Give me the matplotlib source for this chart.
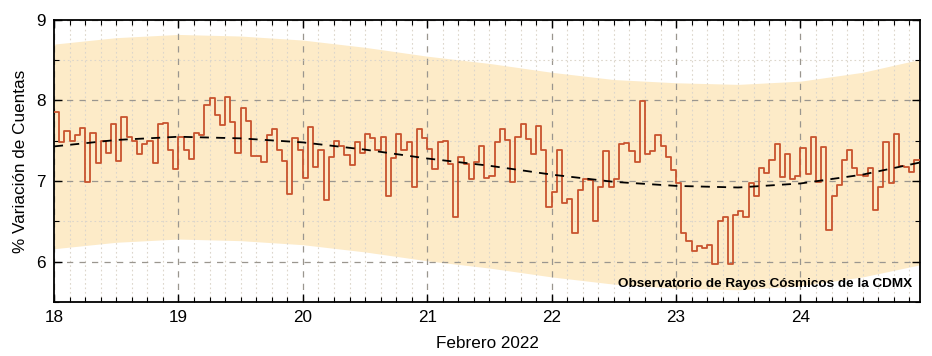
import numpy as np
import matplotlib
matplotlib.use("Agg")
import matplotlib.pyplot as plt
from matplotlib.ticker import MultipleLocator

LINE = "#C8532E"; BAND = "#FDEBC8"; GRID = "#9A968F"; MINOR = "#DCD6CB"
plt.rcParams.update({"font.family": ["Liberation Sans", "DejaVu Sans"], "font.size": 12})

# hourly % count variation, 18-24 Feb 2022 (24 values per day)
d18 = [7.86, 7.48, 7.62, 7.50, 7.57, 7.66, 6.99, 7.60, 7.22, 7.50, 7.35, 7.71,
       7.25, 7.79, 7.55, 7.50, 7.33, 7.46, 7.50, 7.22, 7.71, 7.72, 7.39, 7.15]
d19 = [7.55, 7.38, 7.27, 7.60, 7.57, 7.95, 8.03, 7.82, 7.69, 8.04, 7.73, 7.35,
       7.91, 7.75, 7.31, 7.31, 7.24, 7.57, 7.64, 7.39, 7.25, 6.84, 7.54, 7.38]
d20 = [7.04, 7.67, 7.17, 7.39, 6.76, 7.30, 7.50, 7.43, 7.32, 7.20, 7.48, 7.35,
       7.59, 7.54, 7.38, 7.55, 6.82, 7.29, 7.59, 7.38, 7.49, 6.93, 7.65, 7.54]
d21 = [7.40, 7.15, 7.49, 7.50, 7.21, 6.55, 7.30, 7.21, 7.02, 7.24, 7.43, 7.04,
       7.06, 7.49, 7.64, 7.51, 6.99, 7.55, 7.71, 7.52, 7.33, 7.68, 7.38, 6.68]
d22 = [6.87, 7.39, 6.73, 6.78, 6.35, 6.89, 7.03, 7.01, 6.51, 6.93, 7.37, 6.93,
       7.02, 7.46, 7.47, 7.37, 7.24, 7.99, 7.33, 7.37, 7.57, 7.43, 7.30, 7.14]
d23 = [6.97, 6.35, 6.26, 6.13, 6.19, 6.17, 6.20, 5.97, 6.50, 6.55, 5.97, 6.58,
       6.63, 6.55, 6.97, 6.81, 7.16, 7.10, 7.26, 7.46, 7.05, 7.33, 7.03, 7.06]
d24 = [7.41, 7.09, 7.55, 6.99, 7.42, 6.39, 6.81, 6.95, 7.26, 7.39, 7.16, 7.08,
       7.06, 7.16, 6.64, 6.93, 7.48, 6.97, 7.58, 7.19, 7.18, 7.11, 7.26, 7.26]
counts = d18 + d19 + d20 + d21 + d22 + d23 + d24

# smooth trend and its band, read every half day
trend_x = [18.0, 18.5, 19.0, 19.5, 20.0, 20.5, 21.0, 21.5, 22.0, 22.5, 23.0, 23.5, 24.0, 24.5, 24.96]
trend = [7.43, 7.51, 7.55, 7.53, 7.48, 7.39, 7.28, 7.19, 7.08, 6.99, 6.94, 6.92, 6.97, 7.08, 7.23]
band_hi = [8.70, 8.78, 8.82, 8.80, 8.75, 8.66, 8.55, 8.46, 8.35, 8.26, 8.22, 8.20, 8.24, 8.35, 8.51]
band_lo = [6.16, 6.24, 6.28, 6.26, 6.21, 6.12, 6.01, 5.92, 5.81, 5.72, 5.67, 5.65, 5.70, 5.81, 5.96]

t = 18 + np.arange(len(counts)) / 24.0

fig = plt.figure(figsize=(9.32, 3.56), dpi=100)
ax = fig.add_axes([0.058, 0.152, 0.929, 0.792])

ax.fill_between(trend_x, band_lo, band_hi, color=BAND, lw=0, zorder=1)
ax.plot(t, counts, drawstyle="steps-post", color=LINE, lw=1.3, zorder=3)
ax.plot(trend_x, trend, color="black", ls=(0, (5, 4)), lw=1.3, zorder=4)

ax.set_xlim(18, 24.96); ax.set_ylim(5.5, 9)
ax.xaxis.set_major_locator(MultipleLocator(1)); ax.xaxis.set_minor_locator(MultipleLocator(1 / 8))
ax.yaxis.set_major_locator(MultipleLocator(1)); ax.yaxis.set_minor_locator(MultipleLocator(0.5))
ax.grid(which="major", color=GRID, ls=(0, (5, 5)), lw=0.9)
ax.grid(which="minor", color=MINOR, ls=(0, (1.5, 2.5)), lw=0.8)
ax.tick_params(which="both", direction="in", top=True, right=True, labelsize=12.3, pad=6)
ax.tick_params(which="major", length=6, width=1)
ax.tick_params(which="minor", length=3.5, width=0.8)
for s in ax.spines.values():
    s.set_linewidth(1.3)

ax.set_ylabel("% Variación de Cuentas", fontsize=12.3, labelpad=6)
ax.set_xlabel("Febrero 2022", fontsize=12.3, labelpad=8)
ax.text(0.991, 0.065, "Observatorio de Rayos Cósmicos de la CDMX", transform=ax.transAxes,
        ha="right", va="center", fontsize=9.7, fontweight="bold", zorder=5)

fig.savefig("out.png", dpi=100)
